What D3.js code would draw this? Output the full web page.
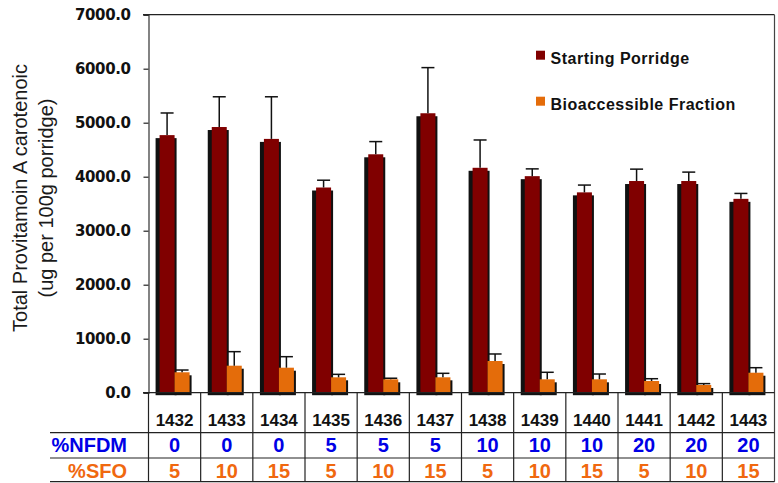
<!DOCTYPE html>
<html>
<head>
<meta charset="utf-8">
<script src="https://cdn.jsdelivr.net/npm/d3@7/dist/d3.min.js"></script>
<style>
  html, body { margin: 0; padding: 0; background: #fff; }
  svg { display: block; }
</style>
</head>
<body>
<svg id="chart" width="778" height="483"></svg>
<script>
// Sample codes and formulation levels
const categories = ["1432","1433","1434","1435","1436","1437","1438","1439","1440","1441","1442","1443"];
const nfdm = [0, 0, 0, 5, 5, 5, 10, 10, 10, 20, 20, 20];
const sfo  = [5, 10, 15, 5, 10, 15, 5, 10, 15, 5, 10, 15];

// Total provitamin A carotenoid (ug per 100 g porridge), with upper error
const starting    = [4770, 4920, 4700, 3800, 4415, 5175, 4165, 4010, 3710, 3920, 3920, 3590];
const startingErr = [410, 560, 780, 135, 235, 845, 515, 135, 135, 220, 165, 100];
const bioaccessible    = [378, 500, 463, 285, 248, 285, 587, 248, 248, 217, 143, 370];
const bioaccessibleErr = [42, 260, 204, 55, 20, 74, 130, 130, 98, 42, 25, 93];

const yTicks = [0, 1000, 2000, 3000, 4000, 5000, 6000, 7000];
const seriesNames = ["Starting Porridge", "Bioaccessible Fraction"];
const seriesColors = ["#800000", "#e46c0a"];

const svg = d3.select("#chart");
const plotLeft = 148.5, plotRight = 774.5, plotTop = 14.7, plotBase = 392.7;
const rowLines = [432.7, 458, 481.7];

const x = d3.scaleBand().domain(categories).range([plotLeft, plotRight]).padding(0);
const y = d3.scaleLinear().domain([0, 7000]).range([plotBase, plotTop]);

const barW = 15;

// Plot frame: top and right border
svg.append("line").attr("x1", 143).attr("x2", plotRight).attr("y1", plotTop).attr("y2", plotTop)
  .attr("stroke", "#222").attr("stroke-width", 1.2);
svg.append("line").attr("x1", plotRight).attr("x2", plotRight).attr("y1", plotTop).attr("y2", rowLines[2])
  .attr("stroke", "#444").attr("stroke-width", 1.2);

// Y axis
const yAxis = svg.append("g").attr("transform", `translate(${plotLeft},0)`)
  .call(d3.axisLeft(y).tickValues(yTicks).tickFormat(d3.format(".1f")).tickSize(5).tickPadding(13));
yAxis.select(".domain").attr("stroke", "#333").attr("stroke-width", 1.2);
yAxis.selectAll(".tick line").attr("stroke", "#222").attr("stroke-width", 1.2);
yAxis.selectAll(".tick text")
  .attr("font-family", "DejaVu Sans").attr("font-weight", "bold").attr("font-size", 15)
  .attr("letter-spacing", -0.4).attr("fill", "#111");

// Y axis title (two lines)
const titleLines = ["Total Provitamoin A carotenoic", "(ug per 100g porridge)"];
const titleX = [26.5, 52.5];
titleLines.forEach((t, i) => {
  svg.append("text")
    .attr("transform", `translate(${titleX[i]},198) rotate(-90)`)
    .attr("text-anchor", "middle")
    .attr("font-family", "Liberation Sans").attr("font-size", 20)
    .attr("fill", "#1a1a1a")
    .text(t);
});

// Bars with dark drop shadow
const g = svg.append("g");
categories.forEach((c, i) => {
  const cx = x(c) + x.bandwidth() / 2;
  const ys = y(starting[i]), yb = y(bioaccessible[i]);
  // shadows
  g.append("rect").attr("x", cx - barW - 4).attr("y", ys + 3)
    .attr("width", barW + 6).attr("height", plotBase + 2.5 - ys - 3).attr("fill", "#111");
  g.append("rect").attr("x", cx).attr("y", yb + 3)
    .attr("width", barW + 2).attr("height", plotBase + 2.5 - yb - 3).attr("fill", "#111");
  // bars
  g.append("rect").attr("x", cx - barW).attr("y", ys)
    .attr("width", barW).attr("height", plotBase - ys).attr("fill", seriesColors[0]);
  g.append("rect").attr("x", cx).attr("y", yb)
    .attr("width", barW).attr("height", plotBase - yb).attr("fill", seriesColors[1]);
  // error bars (upper)
  [[cx - barW / 2, starting[i], startingErr[i]], [cx + barW / 2, bioaccessible[i], bioaccessibleErr[i]]]
    .forEach(([ex, v, e]) => {
      const y0 = y(v), y1 = y(v + e);
      g.append("line").attr("x1", ex).attr("x2", ex).attr("y1", y0).attr("y2", y1)
        .attr("stroke", "#111").attr("stroke-width", 1.5);
      g.append("line").attr("x1", ex - 6.5).attr("x2", ex + 6.5).attr("y1", y1).attr("y2", y1)
        .attr("stroke", "#111").attr("stroke-width", 1.5);
    });
});

// X baseline
svg.append("line").attr("x1", 143).attr("x2", plotRight).attr("y1", plotBase).attr("y2", plotBase)
  .attr("stroke", "#222").attr("stroke-width", 1.2);

// Table below the axis
const tbl = svg.append("g");
rowLines.forEach(ry => {
  tbl.append("line").attr("x1", 50).attr("x2", plotRight).attr("y1", ry).attr("y2", ry)
    .attr("stroke", "#222").attr("stroke-width", 1.2);
});
categories.forEach(c => {
  tbl.append("line").attr("x1", x(c)).attr("x2", x(c)).attr("y1", plotBase).attr("y2", rowLines[2])
    .attr("stroke", "#222").attr("stroke-width", 1.2);
});

const rows = [
  { label: null, values: categories, color: "#111", size: 17, baseline: 425.7 },
  { label: "%NFDM", values: nfdm, color: "#0000e6", size: 20, baseline: 451.5 },
  { label: "%SFO", values: sfo, color: "#f0680f", size: 20, baseline: 478 }
];
rows.forEach(r => {
  if (r.label) {
    tbl.append("text").attr("x", 127).attr("y", r.baseline).attr("text-anchor", "end")
      .attr("font-family", "Liberation Sans").attr("font-weight", "bold").attr("font-size", 20)
      .attr("fill", r.color).text(r.label);
  }
  categories.forEach((c, i) => {
    tbl.append("text").attr("x", x(c) + x.bandwidth() / 2).attr("y", r.baseline)
      .attr("text-anchor", "middle")
      .attr("font-family", "Liberation Sans").attr("font-weight", "bold").attr("font-size", r.size)
      .attr("fill", r.color).text(r.values[i]);
  });
});

// Legend
const legendY = [50.7, 96.7];
seriesNames.forEach((name, i) => {
  svg.append("rect").attr("x", 536).attr("y", legendY[i]).attr("width", 9).attr("height", 9)
    .attr("fill", seriesColors[i]);
  svg.append("text").attr("x", 550.5).attr("y", legendY[i] + 13.3)
    .attr("font-family", "Liberation Sans").attr("font-weight", "bold").attr("font-size", 16)
    .attr("letter-spacing", 0.5).attr("fill", "#111").text(name);
});
</script>
</body>
</html>
